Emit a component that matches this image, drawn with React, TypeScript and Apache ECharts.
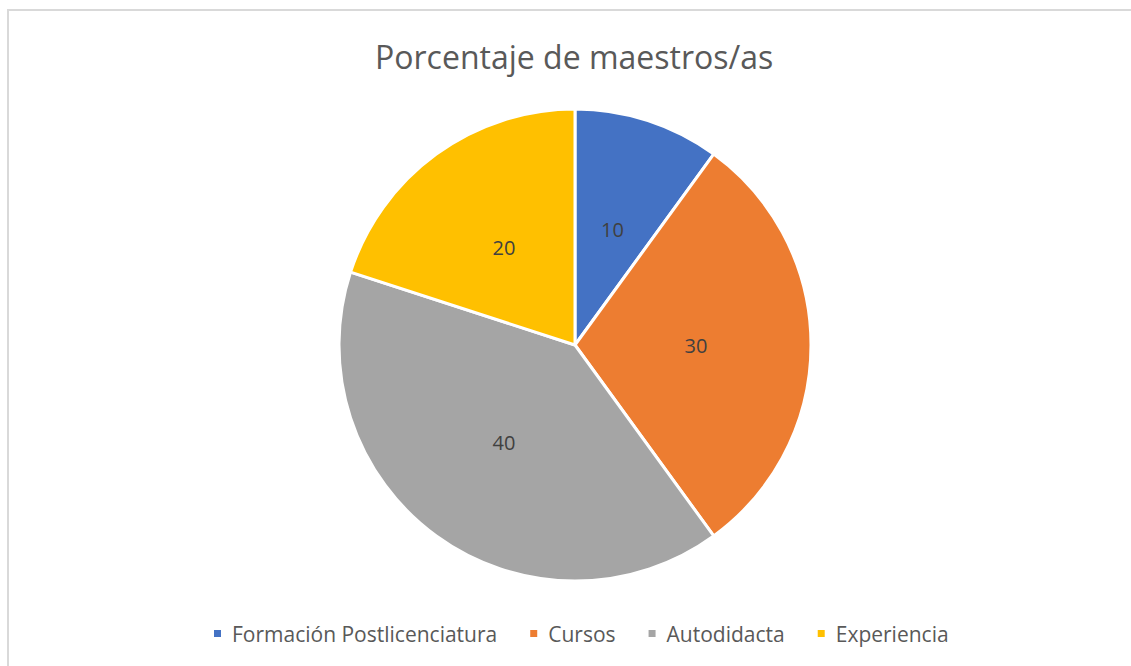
import React, { useEffect, useRef } from "react";
import * as echarts from "echarts";

const categories = ["Formación Postlicenciatura", "Cursos", "Autodidacta", "Experiencia"];
const values = [10, 30, 40, 20];
const colors = ["#4472C4", "#ED7D31", "#A5A5A5", "#FFC000"];
const titleText = "Porcentaje de maestros/as";

export default function App() {
  const ref = useRef<HTMLDivElement>(null);
  useEffect(() => {
    if (!ref.current) return;
    const chart = echarts.init(ref.current, null, { renderer: "svg" });
    chart.setOption({
      animation: false,
      backgroundColor: "#ffffff",
      title: {
        text: titleText,
        left: 370,
        top: 35,
        textStyle: { fontFamily: "Open Sans", fontSize: 32, fontWeight: "normal", color: "#595959" },
      },
      legend: {
        bottom: 17,
        left: 207,
        itemWidth: 9,
        itemHeight: 9,
        itemGap: 31,
        icon: "rect",
        textStyle: { fontFamily: "Open Sans", fontSize: 21, color: "#595959", padding: [0, 0, 0, 5] },
        data: categories,
      },
      graphic: [
        {
          type: "rect",
          shape: { x: 8, y: 10, width: 1200, height: 700 },
          style: { fill: "none", stroke: "#d9d9d9", lineWidth: 2 },
          silent: true,
        },
      ],
      series: [
        {
          type: "pie",
          center: [575, 345],
          radius: 236,
          startAngle: 90,
          clockwise: true,
          data: categories.map((c, i) => ({ name: c, value: values[i], itemStyle: { color: colors[i] } })),
          itemStyle: { borderColor: "#ffffff", borderWidth: 3 },
          label: {
            show: true,
            position: "inside",
            formatter: "{c}",
            fontFamily: "Open Sans",
            fontSize: 20,
            color: "#404040",
          },
          labelLine: { show: false },
          emphasis: { disabled: true },
        },
      ],
    });
    return () => chart.dispose();
  }, []);
  return (
    <div
      ref={ref}
      style={{ position: "absolute", left: 0, top: 0, width: 1131, height: 666 }}
    />
  );
}
